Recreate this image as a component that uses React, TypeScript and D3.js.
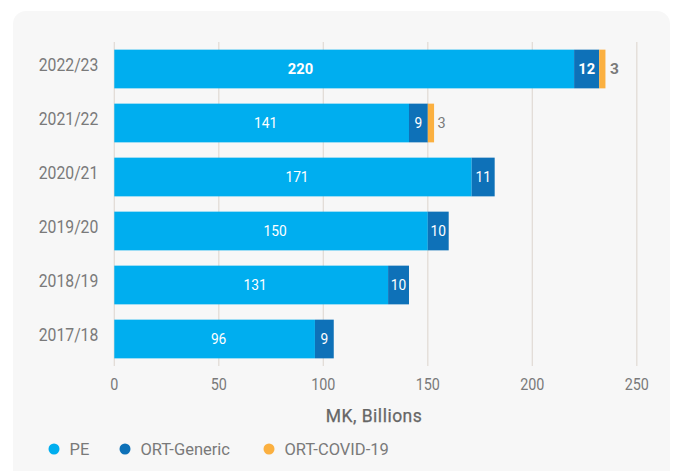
import React from "react";
import * as d3 from "d3";

const years = ["2022/23", "2021/22", "2020/21", "2019/20", "2018/19", "2017/18"];
const pe = [220, 141, 171, 150, 131, 96];
const ortGeneric = [12, 9, 11, 10, 10, 9];
const ortCovid = [3, 3, 0, 0, 0, 0];
const xTicks = [0, 50, 100, 150, 200, 250];
const seriesNames = ["PE", "ORT-Generic", "ORT-COVID-19"];
const seriesColors = ["#00aeef", "#0e71b8", "#fbb040"];

const W = 677;
const H = 471;
const font = "Roboto, 'Noto Sans', sans-serif";

function T(props: any) {
  const { x, y, sx = 1, children, ...rest } = props;
  return (
    <text transform={`translate(${x},${y}) scale(${sx},1)`} fontFamily={font} {...rest}>
      {children}
    </text>
  );
}

export default function App() {
  const x = d3.scaleLinear().domain([0, 250]).range([114.3, 636.8]);
  const y = d3
    .scaleBand<string>()
    .domain(years)
    .range([42, 366])
    .paddingInner(0.283)
    .paddingOuter(0.1415);
  const bh = y.bandwidth();

  return (
    <div style={{ position: "absolute", left: 0, top: 0 }}>
      <svg width={W} height={H} style={{ display: "block" }}>
        <rect x={0} y={0} width={W} height={H} fill="#ffffff" />
        <rect x={13} y={11} width={657} height={475} rx={13} fill="#f7f7f7" />
        {xTicks.map((t) => (
          <line
            key={t}
            x1={x(t)}
            x2={x(t)}
            y1={42}
            y2={366}
            stroke="#e2dcd6"
            strokeWidth={1.3}
          />
        ))}
        {years.map((yr, i) => {
          const y0 = y(yr)!;
          const hi = i === 0;
          const peEnd = x(pe[i]);
          const genEnd = x(pe[i] + ortGeneric[i]);
          const covEnd = x(pe[i] + ortGeneric[i] + ortCovid[i]);
          const cy = y0 + bh / 2;
          const peLabelX = hi ? x(pe[i] * 0.405) : x(pe[i] / 2) + 4;
          return (
            <g key={yr}>
              <T
                x={98.3}
                y={cy + 2.4}
                sx={0.9}
                textAnchor="end"
                fontSize={17.5}
                fill="#7a7a7a"
              >
                {yr}
              </T>
              <rect x={x(0)} y={y0} width={peEnd - x(0)} height={bh} fill={seriesColors[0]} />
              <rect x={peEnd} y={y0} width={genEnd - peEnd} height={bh} fill={seriesColors[1]} />
              {ortCovid[i] > 0 && (
                <rect x={genEnd} y={y0} width={covEnd - genEnd} height={bh} fill={seriesColors[2]} />
              )}
              <T
                x={peLabelX}
                y={cy + 5.2}
                sx={0.95}
                textAnchor="middle"
                fontSize={hi ? 15.5 : 14.5}
                fontWeight={hi ? 700 : 400}
                fill="#ffffff"
              >
                {pe[i]}
              </T>
              <T
                x={(peEnd + genEnd) / 2}
                y={cy + 5.2}
                sx={0.95}
                textAnchor="middle"
                fontSize={hi ? 15.5 : 14.5}
                fontWeight={hi ? 700 : 400}
                fill="#ffffff"
              >
                {ortGeneric[i]}
              </T>
              {ortCovid[i] > 0 && (
                <T
                  x={covEnd + (hi ? 4.5 : 3.5)}
                  y={cy + 5.2}
                  textAnchor="start"
                  fontSize={hi ? 15.5 : 14.5}
                  fontWeight={hi ? 700 : 400}
                  fill="#7a7a7a"
                >
                  {ortCovid[i]}
                </T>
              )}
            </g>
          );
        })}
        {xTicks.map((t) => (
          <T
            key={"l" + t}
            x={x(t)}
            y={390}
            sx={0.87}
            textAnchor="middle"
            fontSize={16.5}
            fill="#7a7a7a"
          >
            {t}
          </T>
        ))}
        <T
          x={374}
          y={421.5}
          textAnchor="middle"
          fontSize={17.5}
          fontWeight={400}
          letterSpacing={0.5}
          fill="#666666"
          stroke="#666666"
          strokeWidth={0.25}
        >
          MK, Billions
        </T>
        {seriesNames.map((s, i) => {
          const cx = [54, 125, 269][i];
          return (
            <g key={s}>
              <circle cx={cx} cy={449} r={5.5} fill={seriesColors[i]} />
              <T x={cx + 15.5} y={455} fontSize={16.5} fill="#7a7a7a">
                {s}
              </T>
            </g>
          );
        })}
      </svg>
    </div>
  );
}
